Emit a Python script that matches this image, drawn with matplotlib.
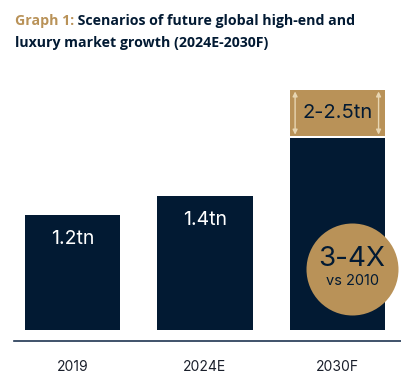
import matplotlib.pyplot as plt

categories = ['2019', '2024E', '2030F']
values = [1.2, 1.4, 2.0]
value_labels = ['1.2tn', '1.4tn', '']
scenario_low = 2.0
scenario_high = 2.5
scenario_label = '2-2.5tn'
growth_label = '3-4X'
growth_sub = 'vs 2010'

navy = '#021a33'
gold = '#b99258'
light_gold = '#e8d6b2'

W, H = 401, 390
fig = plt.figure(figsize=(W / 100, H / 100), dpi=100)

# axes placed in pixels: line at y=341, from x=14 to 401
ax = fig.add_axes([14 / W, (H - 341) / H, 387 / W, (341 - 80) / H])
px_x = 132.5
px_y = 96.0
ax.set_xlim(-(72.5 - 14) / px_x, (401 - 72.5) / px_x)
ax.set_ylim(-11 / px_y, (330 - 80) / px_y)

xs = range(len(categories))
ax.bar(xs, values, width=0.717, color=navy)
for x, v, lab in zip(xs, values, value_labels):
    if lab:
        ax.text(x, v - 0.25, lab, ha='center', va='center', color='white',
                fontsize=14, family='Inter')

# scenario range on top of the last bar
xs3 = len(categories) - 1
ax.bar(xs3, scenario_high - scenario_low - 0.02, bottom=scenario_low + 0.02,
       width=0.717, color=gold)
ax.text(xs3, (scenario_low + scenario_high) / 2 + 0.01, scenario_label,
        ha='center', va='center', color=navy, fontsize=14.5, family='Inter')
for dx in (-0.32, 0.31):
    ax.annotate('', xy=(xs3 + dx, scenario_high - 0.015),
                xytext=(xs3 + dx, scenario_low + 0.035),
                arrowprops=dict(arrowstyle='<|-|>', color=light_gold, lw=1.0,
                                mutation_scale=7, shrinkA=0, shrinkB=0))

# growth bubble
cx = (352 - 72.5) / px_x
cy = (330 - 269) / px_y
ax.scatter([cx], [cy], s=(92 * 0.72) ** 2, color=gold, zorder=3, linewidths=0)
ax.text(cx, cy + 0.1, growth_label, ha='center', va='center', color=navy,
        fontsize=20, family='Inter', zorder=4)
ax.text(cx, cy - 0.12, growth_sub, ha='center', va='center', color=navy,
        fontsize=10.5, family='Inter', zorder=4)

ax.set_xticks(list(xs))
ax.set_xticklabels(categories, fontsize=10, color='#1a1f2b', family='Inter')
ax.tick_params(axis='x', length=0, pad=14)
ax.set_yticks([])
for side in ['top', 'right', 'left']:
    ax.spines[side].set_visible(False)
ax.spines['bottom'].set_color('#1f3552')
ax.spines['bottom'].set_linewidth(1.2)

# two-colour title
t1 = fig.text(15 / W, 1 - 25 / H, 'Graph 1:', color=gold, fontsize=10.2,
              fontweight='bold', family='Open Sans', va='baseline')
ax.annotate(' Scenarios of future global high-end and', xy=(1, 0),
            xycoords=t1, va='bottom', color=navy, fontsize=10.2,
            fontweight='bold', family='Open Sans')
fig.text(15 / W, 1 - 47 / H, 'luxury market growth (2024E-2030F)', color=navy,
         fontsize=10.2, fontweight='bold', family='Open Sans', va='baseline')

fig.savefig('out.png', dpi=100)
